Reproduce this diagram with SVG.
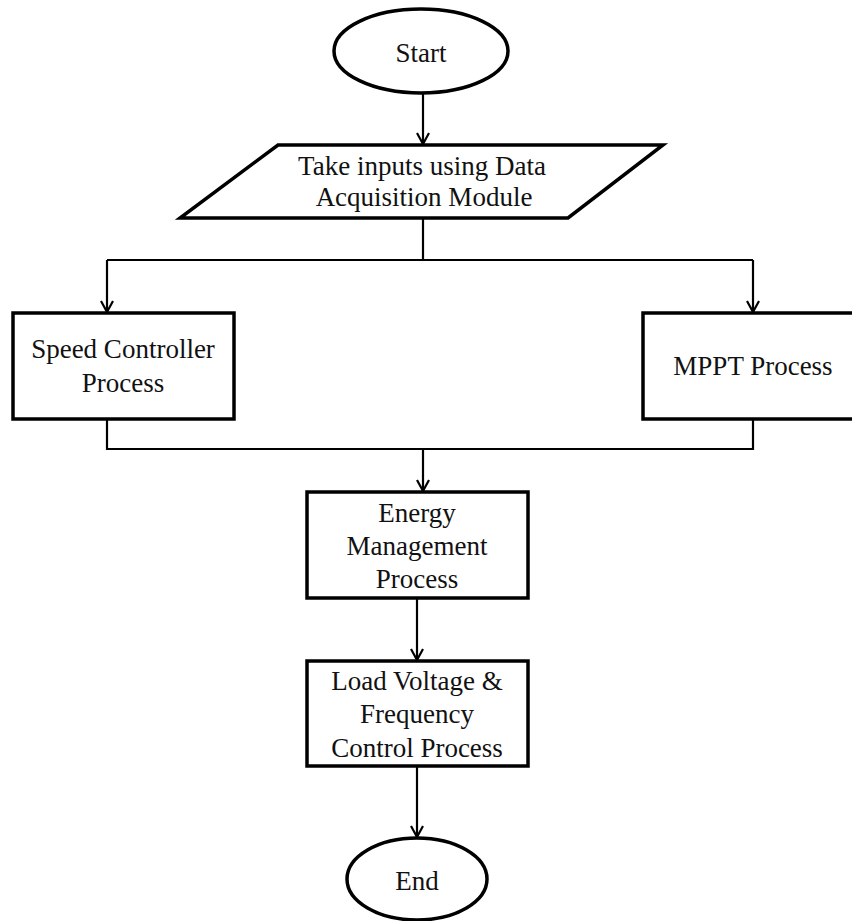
<svg xmlns="http://www.w3.org/2000/svg" width="852" height="921" viewBox="0 0 852 921">
<defs>
<style>
.shape{fill:#fff;stroke:#000;stroke-width:3.5}
.conn{fill:none;stroke:#000;stroke-width:2.2}
.lbl{font-family:"Liberation Serif","Times New Roman",serif;font-size:27px;fill:#111;text-anchor:middle}
</style>
<marker id="arr" markerWidth="14" markerHeight="14" refX="12" refY="7" orient="auto" markerUnits="userSpaceOnUse">
<path d="M1,1 L12,7 L1,13" fill="none" stroke="#000" stroke-width="2.2"/>
</marker>
</defs>
<rect width="852" height="921" fill="#fff"/>
<g id="connectors">
<line class="conn" x1="423" y1="93" x2="423" y2="144" stroke-width="3" marker-end="url(#arr)"/>
<polyline class="conn" points="423,218 423,260"/>
<polyline class="conn" points="107,260 753,260"/>
<line class="conn" x1="107" y1="260" x2="107" y2="312" marker-end="url(#arr)"/>
<line class="conn" x1="753" y1="260" x2="753" y2="312" marker-end="url(#arr)"/>
<polyline class="conn" points="107,419 107,449 753,449 753,419"/>
<line class="conn" x1="423" y1="449" x2="423" y2="491" marker-end="url(#arr)"/>
<line class="conn" x1="417" y1="598" x2="417" y2="660" marker-end="url(#arr)"/>
<line class="conn" x1="417" y1="766" x2="417" y2="837" marker-end="url(#arr)"/>
</g>
<g id="start">
<ellipse class="shape" cx="421" cy="51" rx="87" ry="42" stroke-width="3"/>
<text class="lbl" x="421" y="62">Start</text>
</g>
<g id="input">
<polygon class="shape" points="278,145 663,145 568,218 180,218"/>
<text class="lbl" x="422" y="175">Take inputs using Data</text>
<text class="lbl" x="424" y="206">Acquisition Module</text>
</g>
<g id="speed">
<rect class="shape" x="13" y="313" width="221" height="106"/>
<text class="lbl" x="123" y="358">Speed Controller</text>
<text class="lbl" x="123" y="392">Process</text>
</g>
<g id="mppt">
<rect class="shape" x="643" y="313" width="215" height="106"/>
<text class="lbl" x="753" y="375">MPPT Process</text>
</g>
<g id="energy">
<rect class="shape" x="307" y="492" width="221" height="106"/>
<text class="lbl" x="417" y="522">Energy</text>
<text class="lbl" x="417" y="555">Management</text>
<text class="lbl" x="417" y="588">Process</text>
</g>
<g id="load">
<rect class="shape" x="307" y="661" width="221" height="105"/>
<text class="lbl" x="417" y="690">Load Voltage &amp;</text>
<text class="lbl" x="417" y="723">Frequency</text>
<text class="lbl" x="417" y="757">Control Process</text>
</g>
<g id="end">
<ellipse class="shape" cx="417" cy="879" rx="70" ry="41" stroke-width="3"/>
<text class="lbl" x="417" y="890">End</text>
</g>
</svg>
